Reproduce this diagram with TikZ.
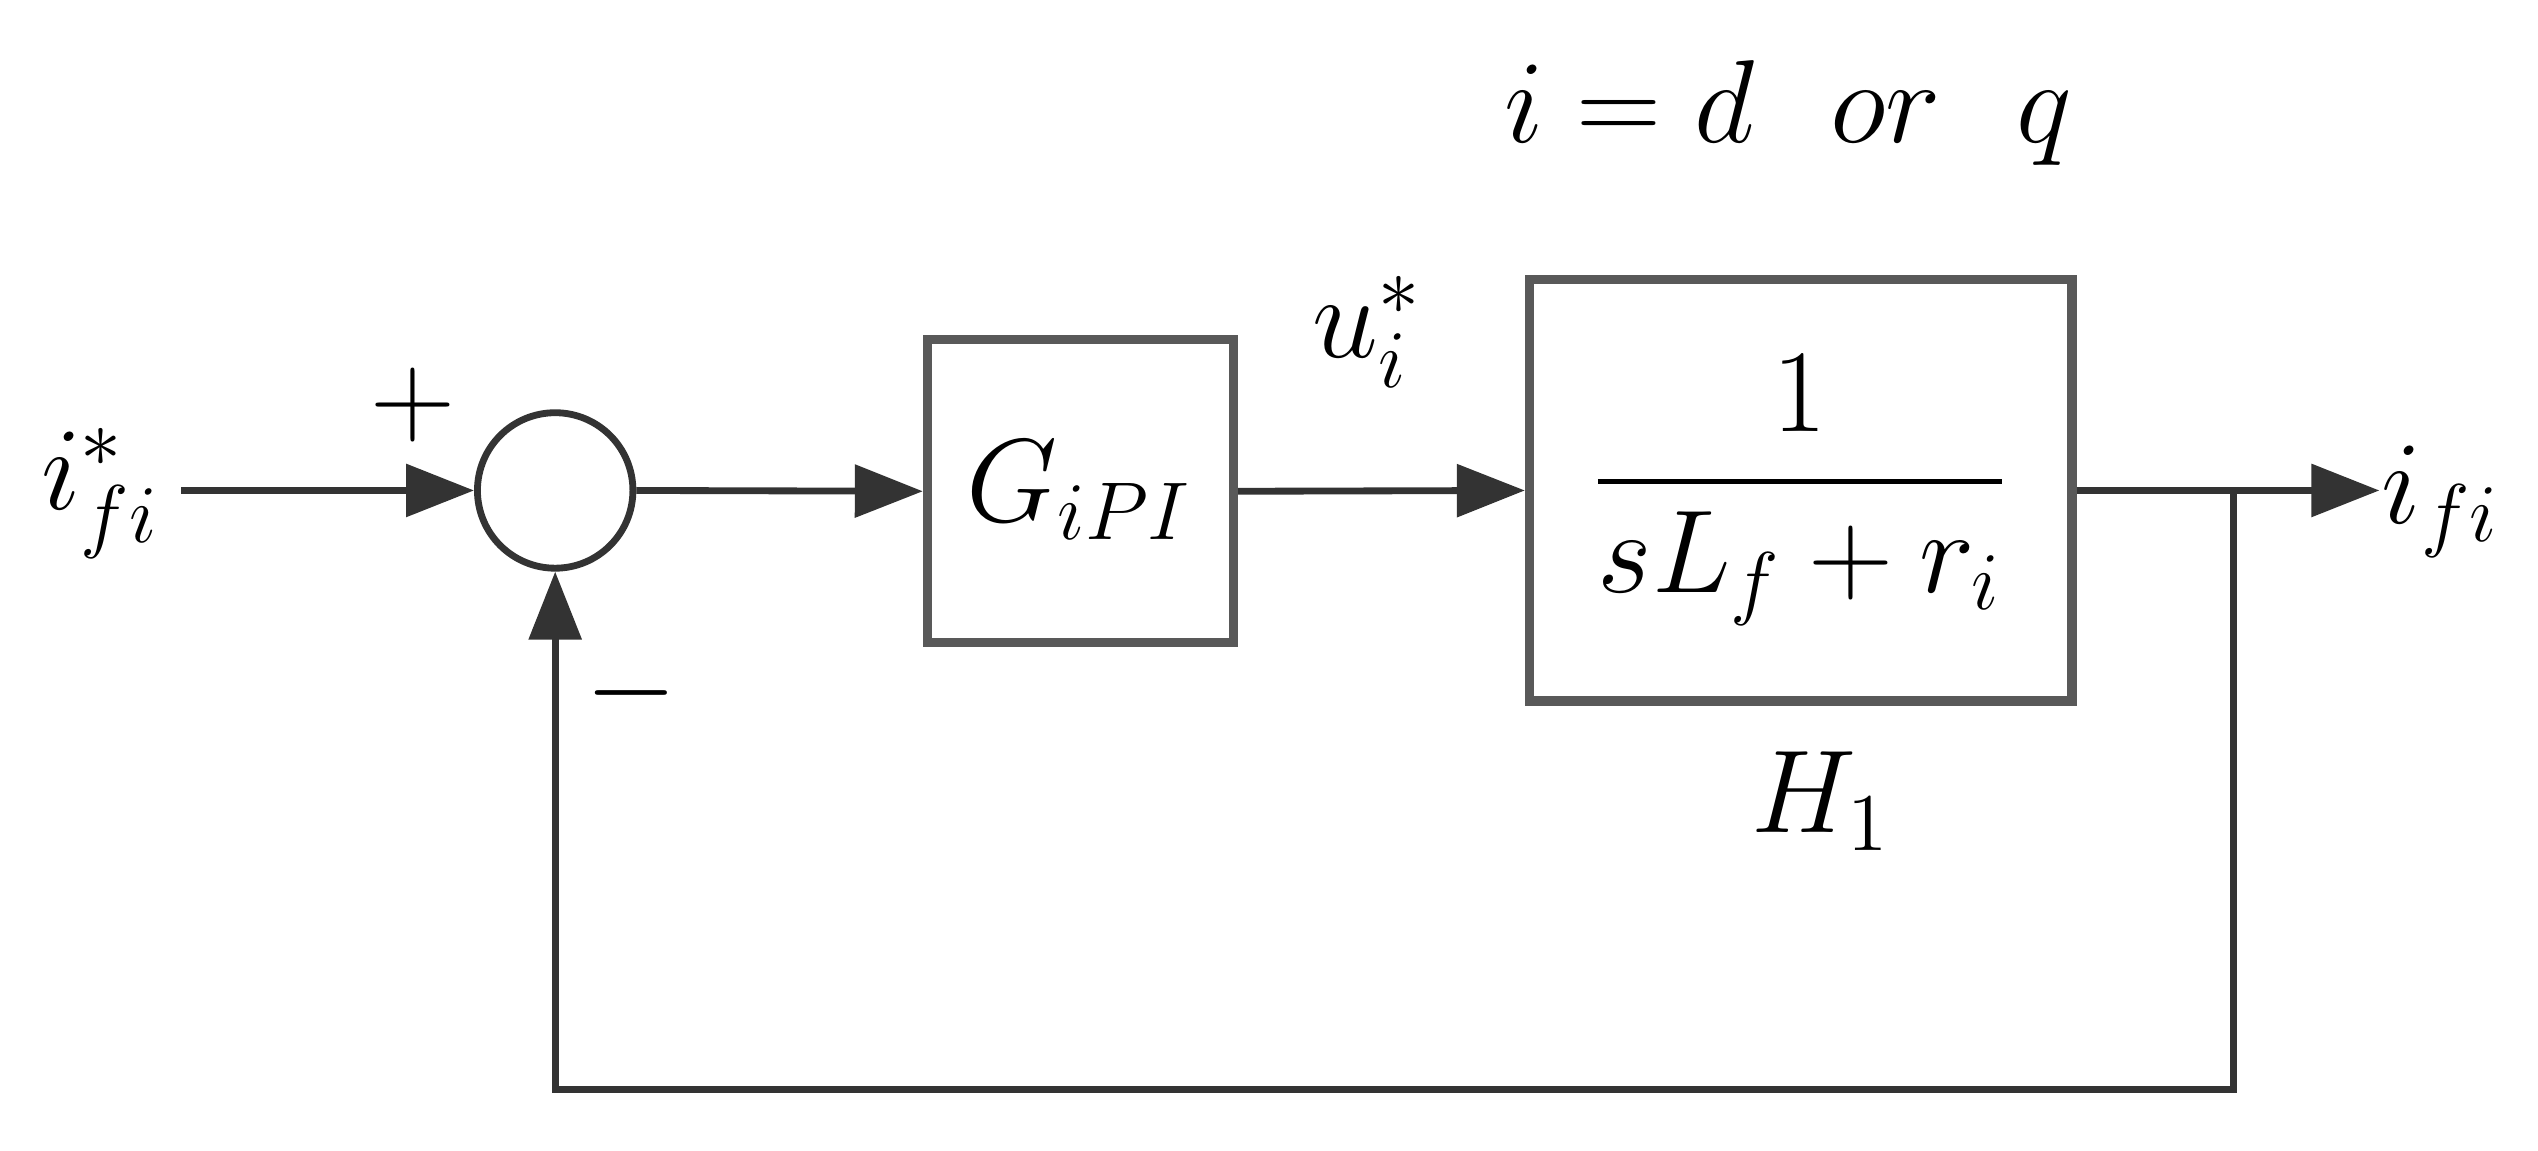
\documentclass[tikz,border=0pt]{standalone}
\usepackage{amsmath}
\usetikzlibrary{arrows.meta}
\begin{document}
\begin{tikzpicture}[x=0.01cm,y=-0.01cm,
  ln/.style={line width=1.2pt,black!80},
  arr/.style={ln,-{Triangle[length=0.42cm,width=0.32cm]}},
  blk/.style={draw=black!65,line width=1.6pt,inner sep=0pt},
  lab/.style={font=\fontsize{22}{26}\selectfont}]
\useasboundingbox (0,0) rectangle (1568,711);
\node[circle,draw=black!80,line width=1.2pt,minimum size=0.96cm,inner sep=0pt] (s) at (343,303) {};
\node[blk,minimum width=1.89cm,minimum height=1.87cm] (g) at (667.5,303.5) {};
\node[lab] at (667,303) {$G_{iPI}$};
\node[blk,minimum width=3.35cm,minimum height=2.6cm] (h) at (1112.5,303) {};
\node[lab] at (1112,303) {$\dfrac{1}{sL_f+r_i}$};
\node[lab] (hl) at (1125,495) {$H_1$};
\node[lab] (t) at (1105,70) {$i=d\ \ or\ \ q$};
\node[lab] (in) at (62,305) {$i_{fi}^{*}$};
\node[lab] (out) at (1508,310) {$i_{fi}$};
\node[lab] (u) at (845,205) {$u_i^{*}$};
\node[lab] at (255,250) {$+$};
\node[lab] at (390,428) {$-$};
\coordinate (a) at (112,303);
\coordinate (b) at (1470,303);
\coordinate (fb) at (1380,303);
\coordinate (c1) at (1380,673);
\coordinate (c2) at (343,673);
\draw[arr] (a) -- (s.west);
\draw[arr] (s.east) -- (g.west);
\draw[arr] (g.east) -- (h.west);
\draw[arr] (h.east) -- (b);
\draw[arr] (fb) -- (c1) -- (c2) -- (s.south);
\end{tikzpicture}
\end{document}
